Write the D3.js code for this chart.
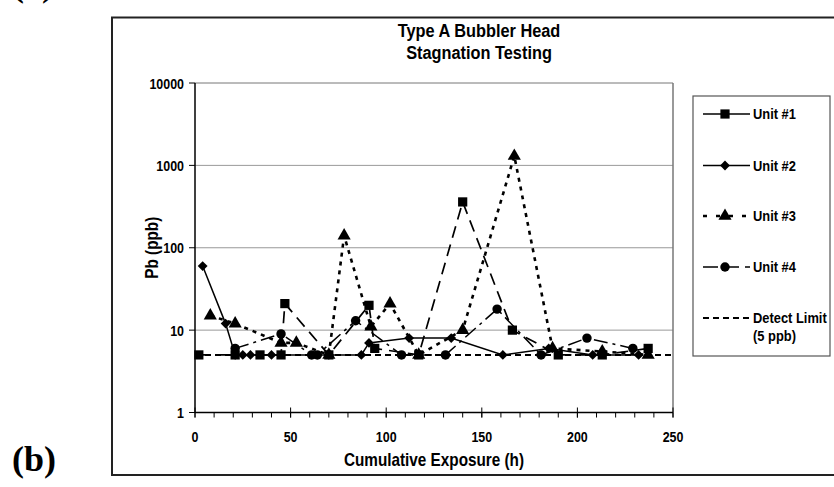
<!DOCTYPE html>
<html><head><meta charset="utf-8">
<script src="https://cdn.jsdelivr.net/npm/d3@7"></script>
<style>
body{margin:0;background:#fff;}
text{font-family:"Liberation Sans",Arial,sans-serif;font-weight:bold;fill:#000;}
</style></head><body>
<svg id="c" width="834" height="487"></svg>
<script>
const title = ["Type A Bubbler Head","Stagnation Testing"];
const xLabel = "Cumulative Exposure (h)";
const yLabel = "Pb (ppb)";
const xTicks = [0,50,100,150,200,250];
const yTicks = [1,10,100,1000,10000];
const detectLimit = 5;
const seriesNames = ["Unit #1","Unit #2","Unit #3","Unit #4"];
const unit1 = [[2,5],[21,5],[34,5],[45,5],[47,21],[70,5],[91,20],[94,6],[117,5],[140,360],[166,10],[190,5],[213,5],[237,6]];
const unit2 = [[4,60],[16,12],[21,5],[25,5],[29,5],[40,5],[70,5],[87,5],[91,7],[112,8],[134,8],[161,5],[185,6],[208,5],[232,5]];
const unit3 = [[8,15],[21,12],[45,7],[53,7],[70,5],[78,140],[92,11],[102,21],[117,5],[140,10],[167,1300],[187,6],[213,5.5],[237,5]];
const unit4 = [[21,6],[45,9],[61,5],[64,5],[84,13],[108,5],[131,5],[158,18],[181,5],[205,8],[229,6]];

const svg = d3.select("#c");
const L=195, R=673, T=83, B=412.5;
const x = d3.scaleLinear().domain([0,250]).range([L,R]);
const y = d3.scaleLog().domain([1,10000]).range([B,T]);

function addText(parent, px, py, str, size, anchor, k, rot){
  const g = parent.append("g").attr("transform",`translate(${px},${py})${rot?` rotate(${rot})`:""} scale(${k},1)`);
  return g.append("text").attr("text-anchor",anchor||"start").style("font-size",size+"px").text(str);
}

// outer chart box
svg.append("rect").attr("x",112).attr("y",17.5).attr("width",760).attr("height",457.5)
  .attr("fill","none").attr("stroke","#222").attr("stroke-width",2);
// panel labels
svg.append("text").attr("x",12).attr("y",-4).style("font-family","'Liberation Serif','Times New Roman',serif")
  .style("font-size","36px").text("(a)");
svg.append("text").attr("x",12).attr("y",471).style("font-family","'Liberation Serif','Times New Roman',serif")
  .style("font-size","36px").text("(b)");

// gridlines
svg.append("g").selectAll("line").data([10,100,1000]).join("line")
  .attr("x1",L).attr("x2",R).attr("y1",d=>y(d)).attr("y2",d=>y(d))
  .attr("stroke","#999").attr("stroke-width",1);
// plot border top & right
svg.append("line").attr("x1",L).attr("x2",R).attr("y1",T).attr("y2",T).attr("stroke","#777");
svg.append("line").attr("x1",R).attr("x2",R).attr("y1",T).attr("y2",B).attr("stroke","#777").attr("stroke-width",1.5);

// x axis
const xMinor = d3.range(0,251,10);
svg.append("g").selectAll("line").data(xMinor).join("line")
  .attr("x1",d=>x(d)).attr("x2",d=>x(d)).attr("y1",B).attr("y2",B+5).attr("stroke","#000");
svg.append("g").selectAll("line").data(xTicks).join("line")
  .attr("x1",d=>x(d)).attr("x2",d=>x(d)).attr("y1",B-5).attr("y2",B+5).attr("stroke","#000");
svg.append("line").attr("x1",L).attr("x2",R).attr("y1",B).attr("y2",B).attr("stroke","#000").attr("stroke-width",1.5);
const xt = svg.append("g");
xTicks.forEach(d=>addText(xt, x(d), B+29, d, 15, "middle", 0.83));

// y axis
svg.append("line").attr("x1",L).attr("x2",L).attr("y1",T).attr("y2",B).attr("stroke","#000").attr("stroke-width",1.5);
svg.append("g").selectAll("line").data(yTicks).join("line")
  .attr("x1",L-6).attr("x2",L).attr("y1",d=>y(d)).attr("y2",d=>y(d)).attr("stroke","#000");
const yt = svg.append("g");
yTicks.forEach(d=>addText(yt, L-11, y(d)+5.5, d, 15, "end", 0.83));

// titles
const tg = svg.append("g");
title.forEach((t,i)=>addText(tg, 479, 37+i*22, t, 19, "middle", 0.86));
addText(svg, (L+R)/2, 466, xLabel, 18, "middle", 0.85);
addText(svg, 158, (T+B)/2, yLabel, 18, "middle", 0.85, -90);

// detect limit
svg.append("line").attr("x1",x(0)).attr("x2",x(250)).attr("y1",y(detectLimit)).attr("y2",y(detectLimit))
  .attr("stroke","#000").attr("stroke-width",2).attr("stroke-dasharray","6,4");

const styles = [
  {data:unit1, dash:"12,7", w:1.7, m:"square"},
  {data:unit2, dash:null, w:1.5, m:"diamond"},
  {data:unit3, dash:"4,5", w:2.6, m:"triangle"},
  {data:unit4, dash:"14,5,3,5", w:1.5, m:"circle"}
];
const sym = {square:d3.symbolSquare, diamond:d3.symbolSquare, triangle:d3.symbolTriangle, circle:d3.symbolCircle};
const size = {square:85, diamond:48, triangle:75, circle:70};
const rot = {square:0, diamond:45, triangle:0, circle:0};
const line = d3.line().x(d=>x(d[0])).y(d=>y(d[1]));
styles.forEach(s=>{
  svg.append("path").attr("d",line(s.data)).attr("fill","none").attr("stroke","#000")
    .attr("stroke-width",s.w).attr("stroke-dasharray",s.dash);
});
styles.forEach(s=>{
  svg.append("g").selectAll("path").data(s.data).join("path")
    .attr("transform",d=>`translate(${x(d[0])},${y(d[1])}) rotate(${rot[s.m]})`)
    .attr("d",d3.symbol().type(sym[s.m]).size(size[s.m])).attr("fill","#000");
});

// legend
const lg = svg.append("g");
lg.append("rect").attr("x",693).attr("y",96).attr("width",137).attr("height",260)
  .attr("fill","#fff").attr("stroke","#555").attr("stroke-width",1.2);
const legY = [114,165.5,216,267];
const legDash = [null, null, "4,9", "15,6"];
styles.forEach((s,i)=>{
  lg.append("line").attr("x1",703).attr("x2",750).attr("y1",legY[i]).attr("y2",legY[i])
    .attr("stroke","#000").attr("stroke-width",s.w).attr("stroke-dasharray",legDash[i]);
  lg.append("path").attr("transform",`translate(725,${legY[i]}) rotate(${rot[s.m]})`)
    .attr("d",d3.symbol().type(sym[s.m]).size(size[s.m])).attr("fill","#000");
  addText(lg, 753, legY[i]+5, seriesNames[i], 15, "start", 0.86);
});
lg.append("line").attr("x1",703).attr("x2",750).attr("y1",318).attr("y2",318)
  .attr("stroke","#000").attr("stroke-width",2).attr("stroke-dasharray","6,4");
addText(lg, 753, 323, "Detect Limit", 15, "start", 0.86);
addText(lg, 753, 341, "(5 ppb)", 15, "start", 0.86);
</script></body></html>
